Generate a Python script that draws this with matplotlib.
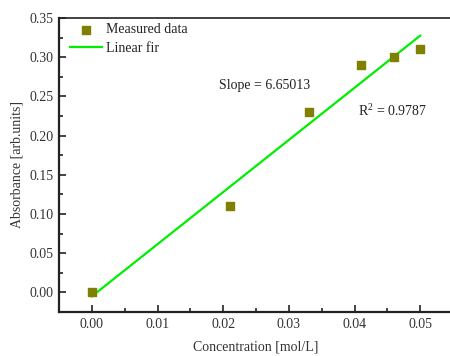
import numpy as np
import matplotlib
matplotlib.use("Agg")
import matplotlib.pyplot as plt
from matplotlib.ticker import MultipleLocator, FormatStrFormatter

conc = [0.0, 0.021, 0.033, 0.041, 0.046, 0.050]
absorb = [0.0, 0.11, 0.23, 0.29, 0.30, 0.31]
slope_text = "Slope = 6.65013"
r2_text = "R$^2$ = 0.9787"

plt.rcParams['font.family'] = ['Liberation Serif', 'DejaVu Serif']
plt.rcParams['mathtext.fontset'] = 'custom'
plt.rcParams['mathtext.rm'] = 'Liberation Serif'

fig = plt.figure(figsize=(4.5, 3.56), dpi=100)
ax = fig.add_axes([59/450, 44/356, 394/450, 294/356])

slope, intercept = np.polyfit(conc, absorb, 1)
xf = np.array([min(conc), max(conc)])
ax.plot(xf, slope*xf + intercept, color='#00ee00', lw=1.6, label='Linear fir', zorder=2)
ax.scatter(conc, absorb, marker='s', s=33, color='#808000', label='Measured data', zorder=3)

ax.set_xlim(-0.005, 0.055)
ax.set_ylim(-0.025, 0.35)
ax.xaxis.set_major_locator(MultipleLocator(0.01))
ax.xaxis.set_minor_locator(MultipleLocator(0.005))
ax.yaxis.set_major_locator(MultipleLocator(0.05))
ax.yaxis.set_minor_locator(MultipleLocator(0.025))
ax.xaxis.set_major_formatter(FormatStrFormatter('%.2f'))
ax.yaxis.set_major_formatter(FormatStrFormatter('%.2f'))
ax.tick_params(which='both', direction='in', labelsize=10, width=1.2,
               color='#222222', labelcolor='#333333')
ax.tick_params(which='major', length=5, pad=4)
ax.tick_params(which='minor', length=3)
for s in ['left', 'bottom']:
    ax.spines[s].set_linewidth(1.6)
    ax.spines[s].set_color('#222222')
ax.spines['top'].set_linewidth(1.2)
ax.spines['top'].set_color('#222222')
ax.spines['right'].set_visible(False)

ax.set_xlabel('Concentration [mol/L]', fontsize=10, labelpad=7, color='#333333')
ax.set_ylabel('Absorbance [arb.units]', fontsize=10, labelpad=4, color='#333333')

ax.text(0.0193, 0.264, slope_text, fontsize=10, ha='left', va='center', color='#222222')
ax.text(0.0405, 0.232, r2_text, fontsize=10, ha='left', va='center', color='#222222')

leg = ax.legend(handles=[ax.collections[0], ax.lines[0]], loc='upper left',
                bbox_to_anchor=(0.0, 1.02), frameon=False, fontsize=10,
                handlelength=2.3, handletextpad=0.25, labelspacing=0.4, borderpad=0.3)
for t in leg.get_texts():
    t.set_color('#222222')

fig.savefig('out.png', dpi=100)
